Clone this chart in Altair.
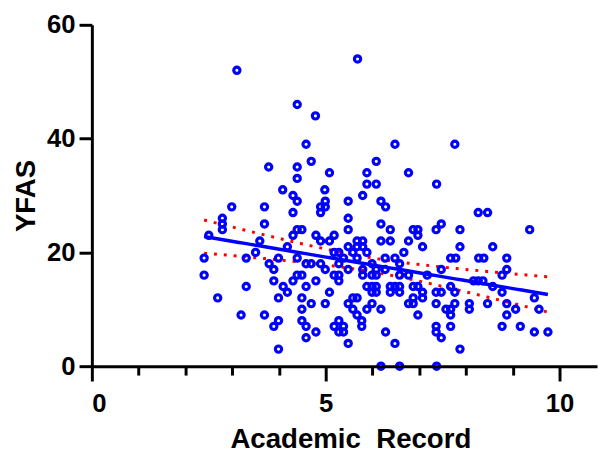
import altair as alt
import numpy as np
import pandas as pd

academic_record = [
    3.10, 4.39, 4.78, 4.58, 3.78, 4.39, 4.69, 5.08, 4.39, 4.08,
    4.98, 5.68, 6.48, 7.76, 6.08, 5.88, 6.77, 5.88, 6.08, 7.37,
    2.50, 2.40, 2.40, 2.69, 2.79, 2.79, 2.79, 2.99, 3.19, 3.30,
    3.30, 3.59, 3.50, 3.69, 3.69, 3.69, 3.79, 3.89, 3.89, 3.99,
    3.99, 3.89, 3.99, 3.99, 4.09, 4.18, 4.18, 4.30, 4.39, 4.30,
    4.39, 4.49, 4.30, 4.39, 4.30, 4.39, 4.49, 4.58, 4.69, 4.58,
    4.49, 4.49, 4.69, 4.79, 4.49, 4.58, 4.58, 4.79, 4.79, 4.89,
    4.99, 4.89, 4.99, 4.89, 5.08, 5.18, 5.18, 4.89, 4.99, 5.08,
    4.99, 5.18, 5.28, 5.28, 5.28, 5.18, 5.28, 5.38, 5.79, 5.48,
    6.18, 6.28, 5.48, 6.18, 5.48, 6.38, 6.87, 6.97, 6.97, 7.36,
    7.47, 7.87, 8.26, 8.46, 9.36, 6.18, 6.38, 6.77, 7.07, 7.87,
    8.57, 6.67, 5.48, 5.58, 5.67, 5.79, 5.67, 5.79, 5.88, 5.28,
    5.38, 5.48, 5.67, 5.79, 5.79, 5.99, 6.08, 5.99, 6.08, 5.88,
    5.99, 6.08, 5.99, 6.08, 6.27, 6.48, 6.27, 6.58, 6.58, 6.77,
    6.38, 6.48, 6.58, 6.58, 6.87, 7.07, 7.17, 7.47, 7.36, 7.47,
    7.67, 7.76, 6.87, 6.77, 6.87, 6.97, 7.07, 7.36, 7.57, 7.67,
    7.67, 7.76, 7.36, 7.36, 7.47, 7.67, 7.87, 8.07, 8.07, 8.16,
    8.26, 8.36, 8.57, 8.46, 8.77, 8.77, 8.87, 8.87, 8.87, 8.87,
    9.06, 8.77, 9.16, 9.46, 9.56, 9.46, 9.75, 5.48, 5.58, 5.67,
    5.58, 5.67, 5.99, 5.88, 6.18, 5.28, 5.38, 5.48, 5.77, 5.77,
    6.28, 6.48, 6.18, 6.58, 7.37, 7.67, 7.78, 8.27, 8.38, 6.38,
    6.97,
]
yfas = [
    52, 46, 44, 39, 35, 35, 36, 34, 33, 31,
    31, 54, 39, 39, 36, 34, 34, 32, 32, 32,
    23, 19, 16, 12, 26, 25, 24, 28, 9, 14,
    19, 22, 20, 28, 25, 9, 18, 17, 15, 19,
    12, 7, 8, 3, 14, 13, 21, 30, 29, 27,
    24, 24, 23, 19, 15, 16, 16, 18, 18, 14,
    12, 10, 11, 15, 8, 7, 5, 6, 23, 22,
    29, 28, 28, 27, 22, 23, 20, 18, 17, 13,
    11, 16, 16, 15, 18, 7, 8, 7, 30, 29,
    29, 28, 26, 25, 24, 24, 24, 24, 23, 24,
    25, 24, 27, 27, 24, 22, 22, 22, 21, 21,
    21, 20, 21, 20, 22, 22, 21, 21, 20, 20,
    19, 17, 19, 17, 16, 18, 17, 16, 16, 14,
    14, 14, 13, 13, 19, 19, 17, 18, 16, 16,
    14, 14, 14, 13, 14, 13, 16, 17, 13, 13,
    14, 13, 12, 11, 11, 9, 12, 11, 10, 10,
    9, 11, 7, 6, 5, 7, 3, 11, 10, 15,
    15, 15, 14, 11, 13, 16, 17, 19, 11, 9,
    10, 7, 7, 12, 10, 6, 6, 11, 12, 12,
    10, 9, 11, 10, 10, 6, 6, 4, 8, 7,
    6, 4, 0, 0, 0, 19, 19, 19, 19, 13,
    14,
]

x_ticks = list(range(0, 11))
y_ticks = [0, 20, 40, 60]
t_crit = 1.971  # 95% two-sided, df ~ n-2

# Linear regression with 95% confidence band of the fitted line
x = np.array(academic_record, dtype=float)
y = np.array(yfas, dtype=float)
n = len(x)
slope, intercept = np.polyfit(x, y, 1)
resid = y - (intercept + slope * x)
s = np.sqrt(np.sum(resid ** 2) / (n - 2))
sxx = np.sum((x - x.mean()) ** 2)
xg = np.linspace(x.min(), x.max(), 80)
fit = intercept + slope * xg
half = t_crit * s * np.sqrt(1.0 / n + (xg - x.mean()) ** 2 / sxx)

points = pd.DataFrame({"Academic Record": x, "YFAS": y})
band = pd.DataFrame({"Academic Record": xg, "fit": fit,
                     "lower": fit - half, "upper": fit + half})

FONT = "Liberation Sans"

x_axis = alt.Axis(
    values=x_ticks,
    labelExpr="datum.value % 5 === 0 ? datum.label : ''",
    tickSize={"condition": {"test": "datum.value % 5 === 0", "value": 15}, "value": 9},
    tickWidth=3, tickColor="black",
    domainWidth=3, domainColor="black",
    labelFont=FONT, labelFontSize=26, labelFontWeight="bold", labelColor="black",
    labelPadding=10,
    title="Academic\u00a0 Record", titleFont=FONT, titleFontSize=28,
    titleFontWeight="bold", titleColor="black", titlePadding=9,
    titleX=262,
    grid=False, zindex=1,
)
y_axis = alt.Axis(
    values=y_ticks,
    tickSize=13, tickWidth=3, tickColor="black",
    domainWidth=3, domainColor="black",
    labelFont=FONT, labelFontSize=26, labelFontWeight="bold", labelColor="black",
    labelPadding=4,
    title="YFAS", titleFont=FONT, titleFontSize=28,
    titleFontWeight="bold", titleColor="black", titlePadding=6,
    grid=False, zindex=1,
)

x_scale = alt.Scale(domain=[0, 10.8], nice=False, zero=False)
y_scale = alt.Scale(domain=[0, 60], nice=False, zero=False)

scatter = alt.Chart(points).mark_point(
    shape="circle", filled=False, color="#0000FF", size=40,
    strokeWidth=3.2, opacity=1,
).encode(
    x=alt.X("Academic Record:Q", scale=x_scale, axis=x_axis),
    y=alt.Y("YFAS:Q", scale=y_scale, axis=y_axis),
)

line = alt.Chart(band).mark_line(color="#0000FF", strokeWidth=3.5).encode(
    x=alt.X("Academic Record:Q", scale=x_scale, axis=x_axis),
    y=alt.Y("fit:Q", scale=y_scale, axis=y_axis),
)

upper = alt.Chart(band).mark_line(
    color="#FF0000", strokeWidth=3, strokeDash=[3, 7]
).encode(
    x=alt.X("Academic Record:Q", scale=x_scale, axis=x_axis),
    y=alt.Y("upper:Q", scale=y_scale, axis=y_axis),
)

lower = alt.Chart(band).mark_line(
    color="#FF0000", strokeWidth=3, strokeDash=[3, 7]
).encode(
    x=alt.X("Academic Record:Q", scale=x_scale, axis=x_axis),
    y=alt.Y("lower:Q", scale=y_scale, axis=y_axis),
)

chart = alt.layer(upper, lower, scatter, line).properties(
    width=512, height=346,
    autosize=alt.AutoSizeParams(type="none"),
    padding={"left": 85, "top": 14, "right": 2, "bottom": 88},
    background="white",
).configure_view(stroke=None)

chart.save("out.html", embed_options={"renderer": "svg", "actions": False})
